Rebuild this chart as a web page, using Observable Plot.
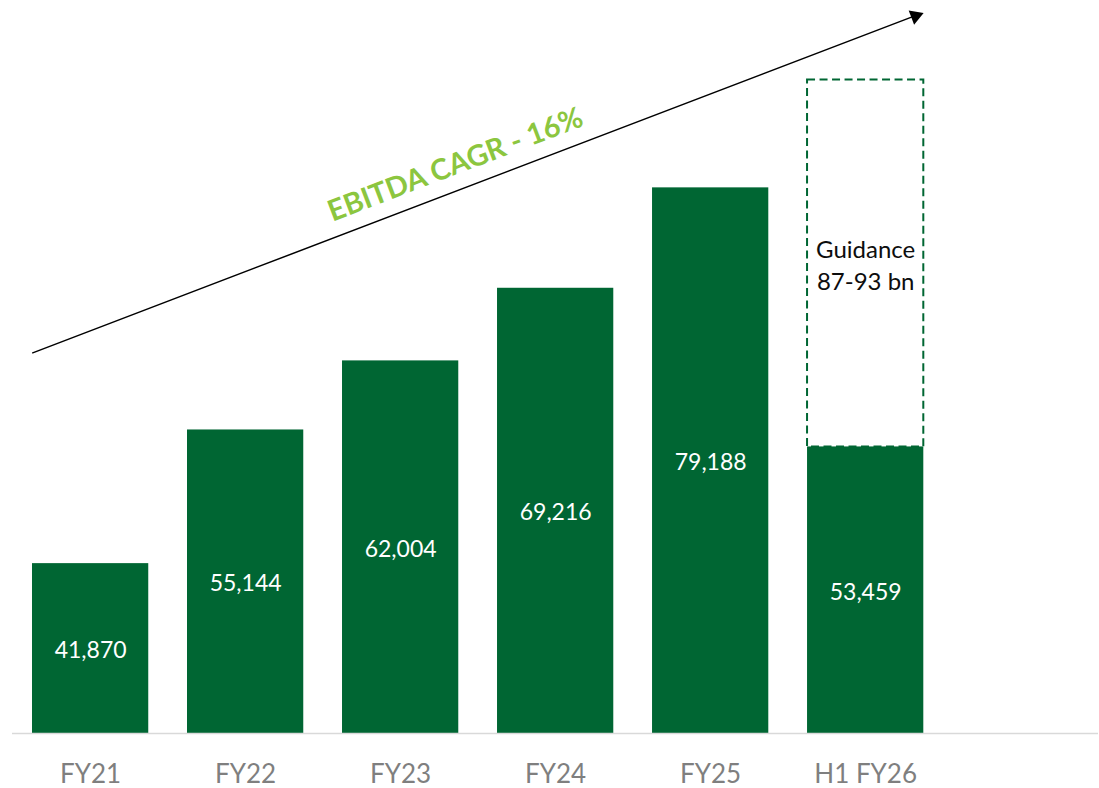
<!DOCTYPE html>
<html><head><meta charset="utf-8">
<script src="https://cdn.jsdelivr.net/npm/d3@7"></script>
<script src="https://cdn.jsdelivr.net/npm/@observablehq/plot@0.6"></script>
<style>html,body{margin:0;padding:0;background:#fff;} svg{display:block}</style>
</head><body><div id="chart"></div>
<script>
// ---- data ----
const categories = ["FY21", "FY22", "FY23", "FY24", "FY25", "H1 FY26"];
const ebitda = [41870, 55144, 62004, 69216, 79188, 53459];
const valueLabels = ["41,870", "55,144", "62,004", "69,216", "79,188", "53,459"];
const guidanceCategory = "H1 FY26";
const guidanceTop = 89900;            // about the mid-point of the 87-93 bn guidance
const guidanceLabel = "Guidance\n87-93 bn";
const axisMin = 25000;                // value axis starts here
const axisMax = 97000;
const trendLabel = "EBITDA CAGR - 16%";
const trendFrom = categories[0], trendTo = categories[5];
const trendStart = 65000, trendEnd = 94400, trendTip = 96250, trendLabelValue = 81470;

// ---- tables ----
const bars = categories.map((c, i) => ({category: c, value: ebitda[i], label: valueLabels[i]}));
const guidance = [{category: guidanceCategory, lo: ebitda[categories.indexOf(guidanceCategory)], hi: guidanceTop, label: guidanceLabel}];
const trend = [{from: trendFrom, to: trendTo, y1: trendStart, y2: trendEnd}];

const green = "#006633";
const font = "Lato, 'Open Sans', sans-serif";

const axisOpts = {tickSize: 0, tickPadding: 31, fontSize: 26, color: "#7f7f7f", fontFamily: font, label: null};

const marks = [
  Plot.barY(bars, {x: "category", y1: () => axisMin, y2: "value", fill: green}),
  Plot.barY(guidance, {x: "category", y1: "lo", y2: "hi", fill: "none", stroke: green, strokeWidth: 2, strokeDasharray: "8,4.5"}),
  Plot.ruleY([axisMin], {stroke: "#d9d9d9", strokeWidth: 1.5}),
  Plot.text(bars, {x: "category", y: d => (axisMin + d.value) / 2, dy: 2, text: "label", fill: "white", fontSize: 23, fontFamily: font}),
  Plot.text(guidance, {x: "category", y: d => (d.lo + d.hi) / 2, text: "label", fill: "#0d0d0d", fontSize: 24, lineHeight: 1.33, fontFamily: font}),
  Plot.arrow(trend, {x1: "from", x2: "to", y1: "y1", y2: "y2", insetStart: -62, insetEnd: -54, headLength: 0, stroke: "black", strokeWidth: 1.5}),
  Plot.dot([{c: trendTo, y: trendTip}], {x: "c", y: "y", dx: 49.8, symbol: "triangle", r: 5.6, rotate: 69, fill: "black", stroke: "none"}),
  Plot.text([{c: categories[2], y: trendLabelValue, t: trendLabel}], {x: "c", y: "y", dx: 54.8, text: "t", rotate: -20.9, fill: "#8cc63f", fontSize: 29, fontWeight: "bold", fontFamily: font})
];
if (typeof Plot.axisX === "function") marks.push(Plot.axisX(axisOpts));

const chart = Plot.plot({
  width: 1099,
  height: 788,
  marginTop: 8,
  marginBottom: 55,
  marginLeft: 12,
  marginRight: 1,
  style: {fontFamily: font, background: "white", fontSize: "26px", color: "#7f7f7f"},
  x: {type: "band", domain: categories, paddingInner: 0.25, paddingOuter: 0.628, align: 0.1027, round: false,
      ...(typeof Plot.axisX === "function" ? {} : {tickSize: 0, tickPadding: 31, label: null})},
  y: {domain: [axisMin, axisMax], axis: null},
  marks
});
document.getElementById("chart").appendChild(chart);
</script>
</body></html>
